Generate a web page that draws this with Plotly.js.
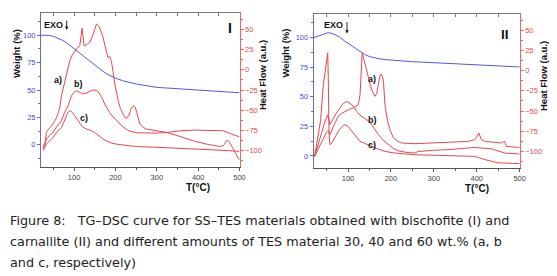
<!DOCTYPE html>
<html><head><meta charset="utf-8">
<script src="https://cdn.plot.ly/plotly-3.0.1.min.js"></script>
<style>html,body{margin:0;padding:0;background:#fff;} #chart{width:557px;height:276px;}</style>
</head><body><div id="chart"></div>
<script>
// ---------- Panel I (bischofite) ----------
const T1_tg = [20,30,40,50,60,70,80,90,100,110,120,130,140,150,160,170,180,190,200,220,250,300,350,400,450,500];
const W1_tg = [100,100,99.8,99,97.5,95.8,93.5,90.5,87.3,85,82,79,75.8,72.7,69.7,67,64.5,62.5,60.8,58.2,55.5,52.4,51,50,48.8,47.5];

const T1_a = [25,29,33,41,49,57,65,69.5,77.5,84,89.6,95,101.7,108,113.8,117,119.4,121.5,124,130,138,146,150,154,158,162,170,175,178.5,182,186,190.5,194,198.5,206.5,212,218.6,223,227,233,238,243,247,251,255,259,267,275,291,324,356,388,420,453,461,466,470,475,481,489,500];
const H1_a = [-100,-96,-77,-72,-67,-60,-48,-32,-14,0,11,18,23.5,27,30,40,51.6,42,30,31,34,44,52,56.5,55,52,40,28,19,15,16.5,10,-2,-17.7,-38,-48,-55,-59,-60,-56,-48,-44.5,-46,-51,-60,-67,-71,-73.4,-74.7,-77.6,-82.5,-88,-92,-95,-94,-90,-87,-89,-94,-102,-112];

const T1_b = [25,33,41,49,57,65,69.5,77,85.5,93.7,101.7,108,114,120,126,132,138,144,150,156,162,168,174,180,186,195,203,211,219,227,235,251,275,300,324,356,390,420,450,461,481,500];
const H1_b = [-96,-86,-81,-77.6,-71,-65,-63,-53,-44.5,-32,-26.8,-26.5,-28,-29.5,-29.5,-28,-27,-25.5,-25,-26,-30,-35,-42.5,-48,-53,-58.5,-63,-67,-71,-74,-76,-78,-78.4,-78.4,-77.6,-75.5,-74.7,-74.7,-75,-75.5,-79.6,-83];

const T1_c = [25,33,41,49,57,65,69.5,75,81.5,86,91,96,101.7,108,113.8,120,130,140,150,160,170,180,190.5,205,218.6,251,300,350,400,450,500];
const H1_c = [-98,-92,-88,-83.8,-78,-74,-71.4,-65,-57,-52,-50.7,-53,-57,-62,-67,-70.5,-73.4,-75,-77.6,-81.5,-85.8,-88.5,-90.7,-92.3,-93.2,-95,-96,-97,-98,-99.5,-101];

// ---------- Panel II (carnallite) ----------
const T2_tg = [20,30,40,53,60,70,80,92,100,110,120,131,140,150,160,170,185,201,225,248,300,325.5,350,403,450,500];
const W2_tg = [100,101,102.5,104.2,103.8,102.5,100.5,97.2,95.2,92.5,90,87.3,85.5,84,83,82.3,81.5,80.9,80.3,79.7,78.8,78.3,77.8,76.6,75.8,75.2];

const T2_a = [22,30,40,50,54,58,65,77,85,93,102,112,120,124,128,130.5,133,136,139.6,143,147,152,157,163,167,171,174,177,180,182.5,186,190,194,200,206,215,225,256,300,341,380,395,400,404.7,408,410.7,420,434,457,462,465,469,480,496,500];
const H2_a = [-106,-98,-88,-76,-74,-79,-70,-56.5,-53,-50.4,-48,-46.2,-44,-42,-29.7,-5,21.9,16,7.4,0,-9,-18,-26,-31.8,-28,-15,-7,-4.1,-7,-13.2,-42,-56,-66.8,-76,-83.3,-87,-89.5,-90.3,-89.3,-88.7,-87.5,-85.4,-82,-77,-82,-85.4,-87.5,-88.3,-89.5,-88,-87.5,-93.7,-94,-95,-95];

const T2_b = [22,28,34.7,40,46.4,52.6,55,58,65,72,80,88,97,103,108.6,114,120,130,143.6,150,155,163,170.6,182,194,205,217,235,256,263,300,341,395,434,465,500];
const H2_b = [-106,-95,-83,-75,-62.7,-54.5,-60,-66.8,-60,-53,-47,-41,-38,-40,-42,-45.5,-50.4,-56,-60.6,-63,-66.8,-73,-79,-86,-91.6,-96,-99,-101,-101.9,-100,-98.5,-97.4,-95,-96.6,-101.9,-103];

const T2_c = [22,30,36,42.5,47,50.3,52.6,54,55.7,58,63,70,80,88,93,100,108.6,118,128,147,163,186,209.5,256,300,341,395,419,450,500];
const H2_c = [-106,-80,-62,-17.3,0,15.7,21.9,-9,-79,-91.6,-89,-82,-73,-68,-66.8,-69,-75,-82,-87.5,-91.6,-95.7,-99.9,-101.9,-104,-104.5,-105,-106,-110,-114,-115];

// ---------- text ----------
const xTitle = 'T(°C)';
const yLeftTitle = 'Weight (%)';
const yRightTitle = 'Heat Flow (a.u.)';
const panelNames = ['I', 'II'];
const curveLabels = ['a)', 'b)', 'c)'];
const captionLines = [
  'Figure 8:   TG–DSC curve for SS–TES materials obtained with bischofite (I) and',
  'carnallite (II) and different amounts of TES material 30, 40 and 60 wt.% (a, b',
  'and c, respectively)'
];

// ---------- styling ----------
const W = 557, H = 276;
const RED = '#e5474b', BLUE = '#5656dc';
const BLUE_T = '#4646d6', RED_T = '#e24848';
const px = v => v / W;
const py = v => 1 - v / H;

const red = (x, y, xa, ya) => ({x, y, xaxis: xa, yaxis: ya, type: 'scatter', mode: 'lines',
  line: {color: RED, width: 1}, hoverinfo: 'skip', showlegend: false});
const blue = (x, y, xa, ya) => ({x, y, xaxis: xa, yaxis: ya, type: 'scatter', mode: 'lines',
  line: {color: BLUE, width: 1}, hoverinfo: 'skip', showlegend: false});

const data = [
  blue(T1_tg, W1_tg, 'x', 'y'),
  red(T1_a, H1_a, 'x', 'y2'), red(T1_b, H1_b, 'x', 'y2'), red(T1_c, H1_c, 'x', 'y2'),
  blue(T2_tg, W2_tg, 'x2', 'y3'),
  red(T2_a, H2_a, 'x2', 'y4'), red(T2_b, H2_b, 'x2', 'y4'), red(T2_c, H2_c, 'x2', 'y4'),
  {x: [null], y: [null], xaxis: 'x3', yaxis: 'y', mode: 'lines', showlegend: false, hoverinfo: 'skip'},
  {x: [null], y: [null], xaxis: 'x4', yaxis: 'y3', mode: 'lines', showlegend: false, hoverinfo: 'skip'}
];

const tickF = (c) => ({family: 'Liberation Sans, Arial, sans-serif', size: 7.5, color: c});
const xBottom = (dom, anchor) => ({domain: dom, anchor: anchor, range: [20, 500], dtick: 100, tick0: 0,
  ticks: 'outside', ticklen: 3, tickcolor: '#555', tickwidth: 1,
  minor: {ticks: 'outside', ticklen: 2, dtick: 50, tick0: 0, tickcolor: '#555'},
  showline: true, linecolor: '#555', linewidth: 1, showgrid: false, zeroline: false,
  tickfont: tickF('#444')});
const xTop = (over, anchor) => ({overlaying: over, anchor: anchor, side: 'top', range: [20, 500], dtick: 50, tick0: 0,
  ticks: 'inside', ticklen: 3, tickcolor: '#777', showticklabels: false,
  showline: true, linecolor: '#777', linewidth: 1, showgrid: false, zeroline: false});
const yLeft = (dom, anchor, rng) => ({domain: dom, anchor: anchor, range: rng, dtick: 25, tick0: 0,
  ticks: 'outside', ticklen: 3, tickcolor: '#6a6ab8',
  minor: {ticks: 'outside', ticklen: 2, dtick: 12.5, tick0: 0, tickcolor: '#6a6ab8'},
  showline: true, linecolor: '#6a6ab8', linewidth: 1, showgrid: false, zeroline: false,
  tickfont: tickF(BLUE_T)});
const yRight = (over, anchor) => ({overlaying: over, anchor: anchor, side: 'right', range: [-120, 70], dtick: 25, tick0: 0,
  ticks: 'outside', ticklen: 3, tickcolor: '#e26a6a',
  minor: {ticks: 'outside', ticklen: 2, dtick: 12.5, tick0: 0, tickcolor: '#e26a6a'},
  showline: true, linecolor: '#e26a6a', linewidth: 1, showgrid: false, zeroline: false,
  tickfont: tickF(RED_T)});

const bold = (t) => '<b>' + t + '</b>';
const ann = (text, x, y, size, opts) => Object.assign({text, xref: 'paper', yref: 'paper', x: px(x), y: py(y),
  xanchor: 'center', yanchor: 'middle', showarrow: false,
  font: {family: 'Liberation Sans, Arial, sans-serif', size: size, color: '#111'}}, opts || {});

const annotations = [
  // axis titles
  ann(bold(yLeftTitle), 17, 54, 9.5, {textangle: -90}),
  ann(bold(yRightTitle), 262, 75, 9.5, {textangle: -90}),
  ann(bold(yLeftTitle), 285.5, 53, 9.5, {textangle: -90}),
  ann(bold(yRightTitle), 543, 76, 9.5, {textangle: -90}),
  ann(bold(xTitle), 198, 187.5, 10, {yanchor: 'middle'}),
  ann(bold(xTitle), 477, 188, 10, {yanchor: 'middle'}),
  // EXO markers
  ann(bold('EXO'), 54, 24.5, 9),
  ann(bold('EXO'), 333, 25, 9),
  {text: '', xref: 'paper', yref: 'paper', x: px(66.7), y: py(30), ax: 0, ay: -11, showarrow: true,
   arrowhead: 2, arrowsize: 0.7, arrowwidth: 1, arrowcolor: '#222'},
  {text: '', xref: 'paper', yref: 'paper', x: px(347), y: py(33.5), ax: 0, ay: -13, showarrow: true,
   arrowhead: 2, arrowsize: 0.7, arrowwidth: 1, arrowcolor: '#222'},
  // panel names
  ann(bold(panelNames[0]), 229.5, 28, 14),
  ann(bold(panelNames[1]), 504.5, 34, 13.5),
  // curve labels
  ann(bold(curveLabels[0]), 58, 80, 9), ann(bold(curveLabels[1]), 78, 84, 9), ann(bold(curveLabels[2]), 84, 118, 9),
  ann(bold(curveLabels[0]), 372, 79, 9), ann(bold(curveLabels[1]), 372, 120, 9), ann(bold(curveLabels[2]), 372, 145, 9)
];
// caption
captionLines.forEach((t, i) => {
  annotations.push({text: t, xref: 'paper', yref: 'paper', x: px(8), y: py(220 + i * 21),
    xanchor: 'left', yanchor: 'middle', showarrow: false,
    font: {family: 'DejaVu Sans, sans-serif', size: 12.8, color: '#222'}});
});

const layout = {
  width: W, height: H, margin: {l: 0, r: 0, t: 0, b: 0},
  paper_bgcolor: '#fff', plot_bgcolor: '#fff', showlegend: false,
  xaxis: xBottom([px(41), px(239.5)], 'y'),
  xaxis3: xTop('x', 'y'),
  yaxis: yLeft([py(166.7), py(13.3)], 'x', [-20, 120]),
  yaxis2: yRight('y', 'x'),
  xaxis2: xBottom([px(313.7), px(519.7)], 'y3'),
  xaxis4: xTop('x2', 'y3'),
  yaxis3: yLeft([py(167.7), py(14)], 'x2', [-10, 120]),
  yaxis4: yRight('y3', 'x2'),
  annotations: annotations
};

Plotly.newPlot('chart', data, layout, {staticPlot: true, displayModeBar: false});
</script></body></html>
